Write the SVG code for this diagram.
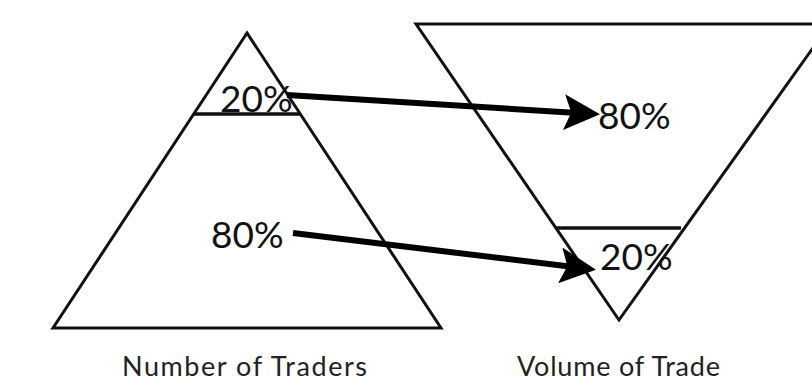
<svg xmlns="http://www.w3.org/2000/svg" width="812" height="385" viewBox="0 0 812 385">
<defs>
<style>
.shape{fill:none;stroke:#111;stroke-width:3;stroke-linejoin:miter}
.div{stroke:#111;stroke-width:3.5}
.pct{font-family:Lato,"Open Sans",sans-serif;font-size:37px;fill:#111}
.lbl{font-family:Lato,"Open Sans",sans-serif;font-size:27px;fill:#222}
.arr{stroke:#000;stroke-width:6;fill:none}
</style>
<marker id="ah" markerWidth="6" markerHeight="6" refX="5" refY="3" orient="auto" markerUnits="strokeWidth">
<path d="M0,0 L6,3 L0,6 L1.2,3 Z" fill="#000"/>
</marker>
</defs>
<rect width="812" height="385" fill="#fff"/>
<g id="traders">
<polygon class="shape" points="247,33 53,328 441,328"/>
<line class="div" x1="193" y1="114" x2="301" y2="114"/>
<text class="pct" x="220" y="112">20%</text>
<text class="pct" x="211" y="248">80%</text>
<text class="lbl" x="122" y="376" textLength="245">Number of Traders</text>
</g>
<g id="volume">
<polygon class="shape" points="416,24 830,24 619,320"/>
<line class="div" x1="556" y1="228" x2="681" y2="228"/>
<text class="pct" x="598" y="129">80%</text>
<text class="pct" x="600" y="270">20%</text>
<text class="lbl" x="517" y="376" textLength="203">Volume of Trade</text>
</g>
<g id="connectors">
<line class="arr" x1="287" y1="95" x2="594" y2="114" marker-end="url(#ah)"/>
<line class="arr" x1="293" y1="233" x2="590" y2="269" marker-end="url(#ah)"/>
</g>
</svg>
